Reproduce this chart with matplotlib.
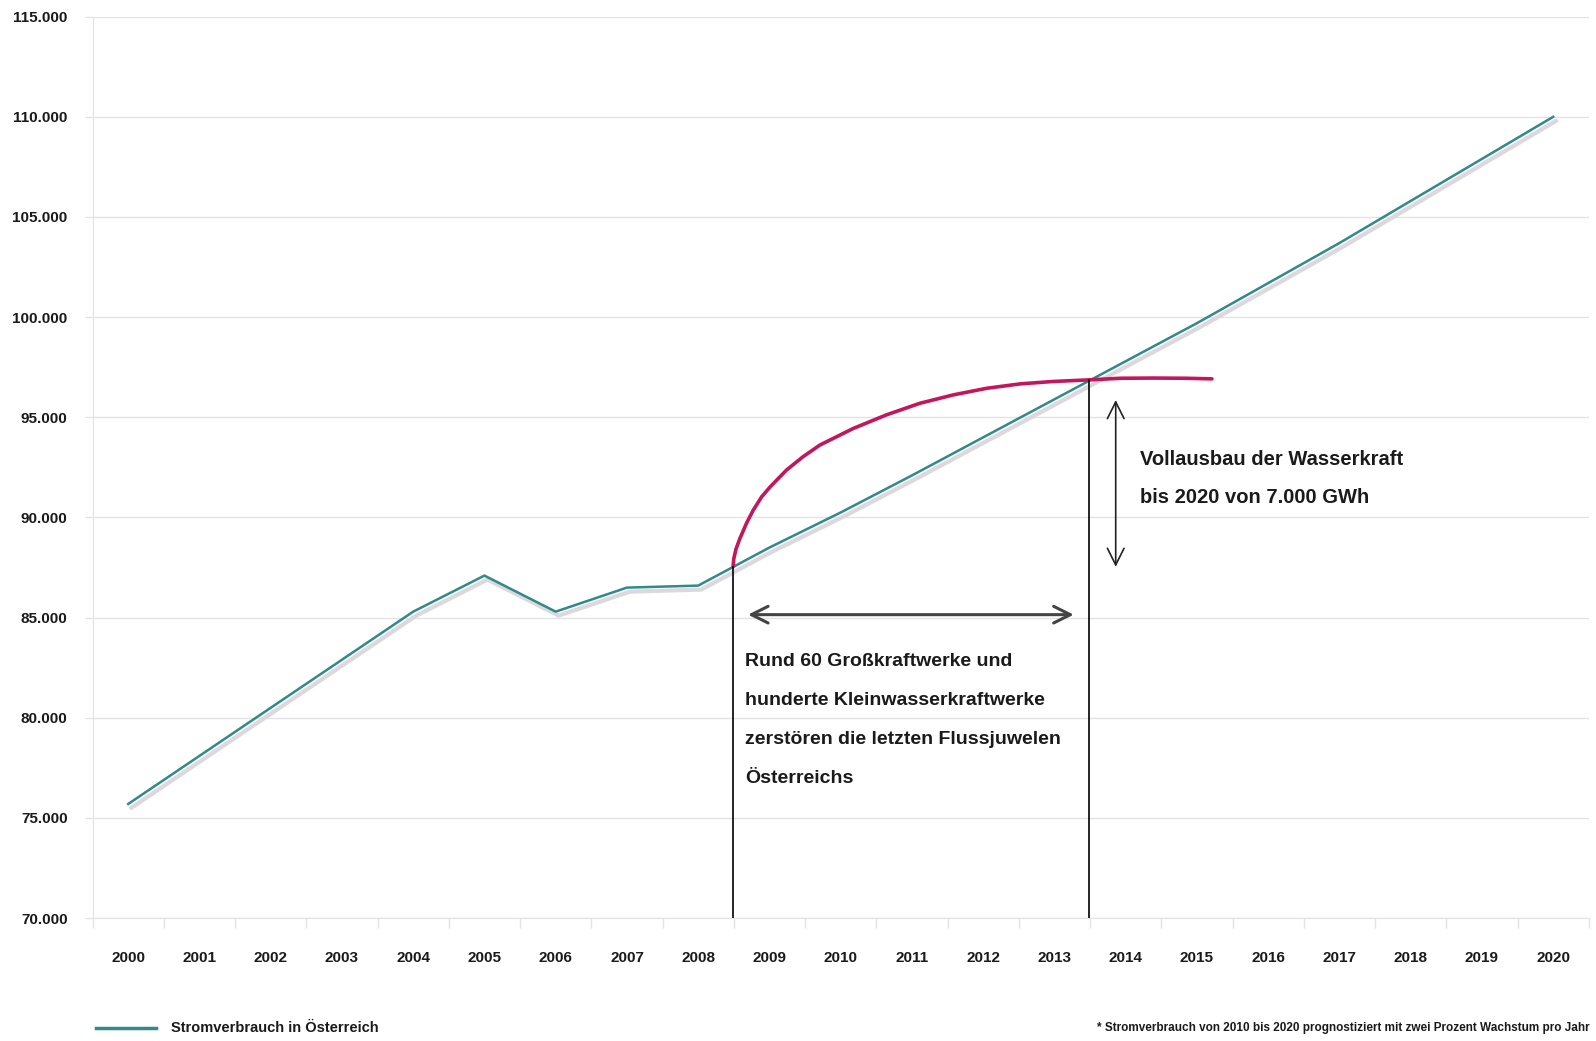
#!/usr/bin/env python3
import matplotlib
matplotlib.use('Agg')
import matplotlib.pyplot as plt
import matplotlib.transforms as mtransforms

plt.rcParams['font.family'] = ['Liberation Sans', 'DejaVu Sans']
plt.rcParams['font.weight'] = 'bold'

# Data
years = ['2000', '2001', '2002', '2003', '2004', '2005', '2006', '2007', '2008', '2009', '2010',
         '2011', '2012', '2013', '2014', '2015', '2016', '2017', '2018', '2019', '2020']
consumption = [75700, 78100, 80500, 82900, 85300, 87100, 85300, 86500, 86600, 88500, 90250,
               92100, 94000, 95900, 97800, 99700, 101700, 103700, 105800, 107900, 110000]

# hydro expansion curve (x in years since 2000)
hydro_x = [8.49, 8.50, 8.53, 8.585, 8.68, 8.77, 8.89, 9.01, 9.24, 9.47, 9.71, 10.18, 10.64, 11.11,
           11.58, 12.05, 12.52, 12.98, 13.49, 13.93, 14.39, 14.85, 15.21]
hydro_y = [87550, 87950, 88420, 88950, 89730, 90350, 91030, 91530, 92370, 93030, 93620, 94450,
           95120, 95700, 96120, 96450, 96670, 96790, 96870, 96950, 96960, 96950, 96920]

yticks = [70000, 75000, 80000, 85000, 90000, 95000, 100000, 105000, 110000, 115000]
ytick_labels = ['70.000', '75.000', '80.000', '85.000', '90.000', '95.000',
                '100.000', '105.000', '110.000', '115.000']

teal = '#2f8a88'
magenta = '#c2185b'
grid_col = '#e3e3e3'
text_col = '#1a1a1a'

fig = plt.figure(figsize=(15.96, 10.41), dpi=100)
ax = fig.add_axes([0.058, 0.118, 0.9375, 0.866])

x = list(range(len(years)))

# shadow line
shadow = mtransforms.offset_copy(ax.transData, fig=fig, x=3, y=-4, units='dots')
ax.plot(x, consumption, color='#dcd8de', lw=3.0, transform=shadow, zorder=2, solid_capstyle='round')
ax.plot(x, consumption, color=teal, lw=1.8, zorder=3)

# hydro curve
ax.plot(hydro_x, hydro_y, color=magenta, lw=2.6, zorder=4, solid_capstyle='round',
        solid_joinstyle='round')

# vertical marker lines
ax.plot([hydro_x[0], hydro_x[0]], [70000, hydro_y[0]], color='black', lw=1.2, zorder=5)
ax.plot([hydro_x[18], hydro_x[18]], [70000, hydro_y[18]], color='black', lw=1.2, zorder=5)

# horizontal double arrow
ax.annotate('', xy=(13.31, 85150), xytext=(8.66, 85150),
            arrowprops=dict(arrowstyle='<->,head_length=1.2,head_width=0.6', color='#444444', lw=2.2))
# vertical double arrow
ax.annotate('', xy=(13.86, 96000), xytext=(13.86, 87400),
            arrowprops=dict(arrowstyle='<->,head_length=1.2,head_width=0.6', color='#222222', lw=1.2))

ax.text(14.2, 93350, 'Vollausbau der Wasserkraft\nbis 2020 von 7.000 GWh', fontsize=14.5,
        ha='left', va='top', linespacing=2.25, color=text_col)
ax.text(8.66, 83250, 'Rund 60 Großkraftwerke und\nhunderte Kleinwasserkraftwerke\n'
        'zerstören die letzten Flussjuwelen\nÖsterreichs', fontsize=14,
        ha='left', va='top', linespacing=2.7, color=text_col)

# axes styling
ax.set_xlim(-0.5, len(years) - 0.5)
ax.set_ylim(70000, 115000)
ax.set_yticks(yticks)
ax.set_yticklabels(ytick_labels)
ax.set_xticks(x)
ax.set_xticklabels(years)
ax.set_xticks([i - 0.5 for i in range(len(years) + 1)], minor=True)
ax.tick_params(axis='x', which='major', length=0, pad=24, labelsize=11, labelcolor=text_col)
ax.tick_params(axis='x', which='minor', length=7, color=grid_col, width=1)
ax.tick_params(axis='y', length=6, color=grid_col, width=1, pad=12, labelsize=11, labelcolor=text_col)
ax.yaxis.grid(True, color=grid_col, lw=1)
ax.set_axisbelow(True)
for s in ['top', 'right']:
    ax.spines[s].set_visible(False)
ax.spines['left'].set_color(grid_col)
ax.spines['bottom'].set_color(grid_col)

# legend and footnote
fig.lines.append(plt.Line2D([0.060, 0.098], [0.0125, 0.0125], color=teal, lw=2.5,
                            transform=fig.transFigure))
fig.text(0.107, 0.0125, 'Stromverbrauch in Österreich', fontsize=10.5, va='center', ha='left',
         color=text_col)
fig.text(0.996, 0.0125, '* Stromverbrauch von 2010 bis 2020 prognostiziert mit zwei Prozent Wachstum pro Jahr',
         fontsize=8.5, va='center', ha='right', color=text_col)

fig.savefig('out.png', dpi=100, facecolor='white')
